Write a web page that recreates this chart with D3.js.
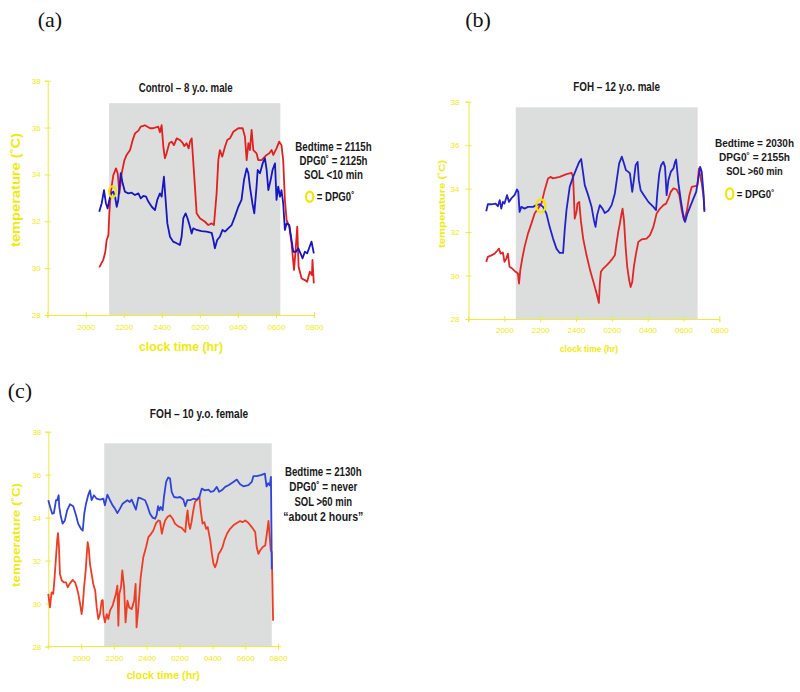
<!DOCTYPE html>
<html><head><meta charset="utf-8">
<script src="https://cdn.jsdelivr.net/npm/d3@7"></script>
<style>
body{margin:0;background:#fff;}
svg{display:block;}
.bold{font-family:"Liberation Sans Narrow","Arial Narrow","Liberation Sans",Arial,sans-serif;font-weight:bold;}
.tick text{font-family:"Liberation Sans",Arial,sans-serif;}
</style>
</head><body>
<script>
// ---------------- DATA ----------------
const yTicks = [28, 30, 32, 34, 36, 38];
const xTickHours = [20, 22, 24, 26, 28, 30, 32];
const xTickLabels = ["2000", "2200", "2400", "0200", "0400", "0600", "0800"];

// Panel (a) Control – 8 y.o. male  ([clock hour since 18:00 base, temperature °C])
const redA = [[20.71,30.03],[20.92,30.35],[21.03,30.7],[21.1,31.2],[21.19,31.4],[21.24,32.34],[21.31,33.19],[21.45,33.97],[21.59,34.26],[21.68,34.05],[21.77,33.19],[21.89,34.05],[22.03,34.6],[22.15,34.83],[22.33,35.04],[22.47,35.47],[22.59,35.75],[22.77,35.87],[22.89,36.04],[23.03,36.07],[23.11,36.1],[23.38,35.97],[23.55,35.97],[23.81,36.04],[23.9,35.8],[23.99,36.1],[24.08,35.18],[24.16,34.69],[24.25,34.9],[24.39,35.33],[24.51,35.4],[24.64,35.25],[24.78,35.54],[24.95,35.47],[25.09,35.35],[25.18,35.21],[25.3,35.33],[25.41,35.11],[25.48,35.4],[25.57,35.54],[25.6,35.18],[25.74,33.48],[25.83,32.34],[26.0,32.13],[26.27,31.98],[26.44,31.84],[26.62,31.91],[26.74,31.84],[26.88,33.19],[26.97,34.61],[27.05,35.04],[27.18,34.76],[27.32,35.18],[27.44,35.47],[27.58,35.54],[27.76,35.82],[28.02,35.97],[28.25,35.97],[28.37,35.61],[28.46,34.61],[28.55,35.33],[28.63,35.04],[28.72,35.9],[28.81,35.04],[28.98,34.9],[29.07,34.61],[29.25,34.61],[29.42,34.76],[29.51,34.83],[29.65,34.9],[29.77,35.04],[29.86,34.83],[30.03,35.11],[30.17,35.4],[30.29,35.25],[30.38,34.61],[30.47,32.91],[30.56,32.05],[30.7,31.77],[30.82,31.06],[30.95,29.92],[31.02,30.63],[31.12,31.77],[31.19,30.06],[31.35,29.56],[31.52,29.49],[31.64,29.42],[31.78,29.85],[31.89,29.71],[31.92,30.35],[31.99,29.35]];
const blueA = [[20.71,32.41],[20.84,32.77],[20.96,33.33],[21.06,32.77],[21.15,32.55],[21.24,32.91],[21.33,33.19],[21.45,33.26],[21.54,33.05],[21.63,32.62],[21.71,32.91],[21.84,34.05],[21.94,33.62],[22.06,33.26],[22.24,33.19],[22.41,33.22],[22.59,33.12],[22.77,33.19],[22.89,32.98],[23.03,33.08],[23.17,33.05],[23.29,32.84],[23.47,32.62],[23.64,32.48],[23.76,32.91],[23.9,33.19],[23.99,33.05],[24.11,33.9],[24.2,32.91],[24.29,31.91],[24.43,31.34],[24.6,31.13],[24.78,31.06],[24.95,30.99],[25.04,31.34],[25.13,32.13],[25.25,32.34],[25.35,32.13],[25.48,31.77],[25.57,31.48],[25.65,31.7],[25.83,31.63],[26.09,31.58],[26.35,31.56],[26.62,31.51],[26.71,31.2],[26.79,30.85],[26.91,31.2],[27.05,31.34],[27.19,31.63],[27.32,31.56],[27.49,31.7],[27.67,31.84],[27.84,32.2],[28.02,32.62],[28.19,32.91],[28.32,33.76],[28.46,34.26],[28.55,34.05],[28.63,33.48],[28.76,32.77],[28.86,32.34],[28.98,33.48],[29.04,34.19],[29.16,34.05],[29.3,34.47],[29.42,34.69],[29.51,34.19],[29.6,33.33],[29.72,33.76],[29.82,34.19],[29.95,34.47],[30.03,32.91],[30.12,33.48],[30.21,33.05],[30.29,33.33],[30.38,32.77],[30.47,31.63],[30.56,31.91],[30.7,31.84],[30.82,31.2],[30.91,30.7],[31.05,30.7],[31.17,30.85],[31.29,30.63],[31.4,30.42],[31.52,30.7],[31.64,30.63],[31.74,30.85],[31.87,31.13],[31.99,30.63]];
const sleepA = [21.23, 30.23];
const dpgA = [21.41, 33.26];

// Panel (b) FOH – 12 y.o. male
const blueB = [[18.99,32.96],[19.08,33.28],[19.27,33.28],[19.51,33.31],[19.64,33.19],[19.74,33.47],[19.83,33.08],[19.92,33.39],[20.01,33.31],[20.15,33.7],[20.26,33.39],[20.39,33.55],[20.57,33.7],[20.71,33.96],[20.78,33.85],[20.85,32.93],[20.95,33.16],[21.13,33.08],[21.32,33.16],[21.6,33.16],[21.79,33.24],[21.97,33.28],[22.16,33.16],[22.35,32.85],[22.53,32.24],[22.72,31.7],[22.91,31.24],[23.09,31.04],[23.28,31.04],[23.37,32.09],[23.47,33.01],[23.65,34.08],[23.84,34.54],[24.03,34.93],[24.18,35.23],[24.29,35.36],[24.4,34.7],[24.49,34.16],[24.68,33.7],[24.87,33.16],[25.0,32.55],[25.09,32.24],[25.18,32.78],[25.33,33.24],[25.48,33.08],[25.61,32.88],[25.8,32.98],[25.99,33.24],[26.17,33.78],[26.3,34.54],[26.41,35.16],[26.56,35.47],[26.68,35.16],[26.79,34.85],[26.92,34.77],[27.01,34.7],[27.14,33.85],[27.23,34.39],[27.33,35.08],[27.44,35.23],[27.51,34.39],[27.61,33.93],[27.79,33.7],[28.04,33.39],[28.32,33.16],[28.47,33.01],[28.54,33.78],[28.65,34.7],[28.75,35.08],[28.88,35.23],[28.97,35.0],[29.06,33.7],[29.16,34.39],[29.29,34.77],[29.44,34.93],[29.53,35.23],[29.59,35.34],[29.72,34.24],[29.85,33.47],[30.0,32.7],[30.09,32.47],[30.22,32.85],[30.37,33.16],[30.56,33.55],[30.71,33.85],[30.84,34.54],[30.93,35.0],[31.02,34.77],[31.12,33.78],[31.17,32.93]];
const redB = [[18.99,30.63],[19.08,30.86],[19.27,30.93],[19.46,31.01],[19.59,31.13],[19.7,31.24],[19.79,31.01],[19.92,31.06],[20.01,30.63],[20.11,30.78],[20.2,31.01],[20.29,30.4],[20.44,30.32],[20.63,30.17],[20.76,30.09],[20.82,29.63],[20.89,30.24],[21.0,30.78],[21.13,31.32],[21.32,31.93],[21.51,32.39],[21.69,32.85],[21.88,33.08],[22.07,33.31],[22.25,33.93],[22.44,34.47],[22.57,34.54],[22.72,34.47],[23.09,34.54],[23.47,34.67],[23.75,34.73],[23.84,34.54],[23.93,32.62],[24.03,32.93],[24.08,33.31],[24.18,33.39],[24.27,32.55],[24.4,31.7],[24.59,30.93],[24.81,30.17],[25.0,29.63],[25.15,29.17],[25.28,28.74],[25.33,29.63],[25.39,30.17],[25.52,30.32],[25.71,30.47],[25.89,30.63],[26.04,30.78],[26.17,30.93],[26.26,31.47],[26.36,32.01],[26.45,32.39],[26.54,32.85],[26.6,33.08],[26.68,32.55],[26.77,31.32],[26.86,30.4],[26.97,29.78],[27.05,29.47],[27.14,29.7],[27.23,30.4],[27.35,31.01],[27.48,31.55],[27.66,31.66],[27.94,31.7],[28.13,31.86],[28.32,32.24],[28.5,32.85],[28.69,33.08],[28.88,33.24],[29.03,33.31],[29.16,33.55],[29.29,33.85],[29.44,34.01],[29.62,33.96],[29.77,33.7],[29.9,33.01],[30.03,32.55],[30.18,32.93],[30.33,33.7],[30.46,34.08],[30.65,34.11],[30.78,34.16],[30.86,34.93],[30.93,34.62],[31.02,34.24],[31.12,33.62],[31.17,33.01]];
const sleepB = [20.64, 30.79];
const dpgB = [22.04, 33.21];

// Panel (c) FOH – 10 y.o. female
const blueC = [[18.0,34.81],[18.14,34.42],[18.24,34.18],[18.34,34.21],[18.47,34.81],[18.54,34.81],[18.63,35.04],[18.67,34.5],[18.75,34.11],[18.87,33.72],[19.01,33.87],[19.15,34.34],[19.32,34.62],[19.52,34.53],[19.69,34.11],[19.82,33.72],[19.99,33.48],[20.1,33.4],[20.19,34.18],[20.3,34.65],[20.43,35.04],[20.54,35.27],[20.64,34.81],[20.78,35.04],[20.95,34.88],[21.15,34.84],[21.36,34.88],[21.45,34.57],[21.6,35.07],[21.76,34.81],[21.92,34.57],[22.06,34.42],[22.21,34.21],[22.37,34.42],[22.53,34.65],[22.67,34.73],[22.82,34.81],[22.97,34.73],[23.08,34.84],[23.23,34.57],[23.34,34.37],[23.49,34.93],[23.69,34.88],[23.9,34.81],[24.03,34.57],[24.2,34.18],[24.36,34.0],[24.51,33.95],[24.6,34.11],[24.69,34.53],[24.77,34.34],[24.85,34.5],[24.97,34.34],[25.05,34.96],[25.18,35.66],[25.31,35.87],[25.42,35.82],[25.52,35.2],[25.66,34.96],[25.86,34.93],[26.03,34.96],[26.23,34.84],[26.35,34.53],[26.47,34.81],[26.64,34.81],[26.84,34.88],[27.05,34.84],[27.21,34.96],[27.35,35.35],[27.55,35.27],[27.76,35.3],[27.9,35.2],[28.07,35.23],[28.27,35.43],[28.41,35.2],[28.57,35.27],[28.78,35.43],[28.98,35.51],[29.28,35.66],[29.49,35.77],[29.59,35.66],[29.69,35.55],[29.89,35.46],[30.2,35.51],[30.4,35.66],[30.5,35.93],[30.7,35.93],[30.95,35.98],[31.2,36.05],[31.3,35.45],[31.4,35.6],[31.5,35.5],[31.57,35.9],[31.6,33.5],[31.62,31.6]];
const redC = [[18.0,30.45],[18.1,29.82],[18.2,30.52],[18.3,30.45],[18.37,31.07],[18.47,32.16],[18.54,32.94],[18.59,33.28],[18.65,32.63],[18.71,31.38],[18.82,31.07],[18.95,30.99],[19.08,30.99],[19.18,30.76],[19.32,30.94],[19.49,31.1],[19.63,30.99],[19.73,30.76],[19.83,30.45],[19.94,29.98],[20.03,29.51],[20.1,29.9],[20.18,30.76],[20.28,31.54],[20.34,32.24],[20.4,32.86],[20.47,32.55],[20.54,31.85],[20.64,31.38],[20.74,30.91],[20.86,30.6],[20.95,29.82],[21.05,29.28],[21.15,29.51],[21.25,30.13],[21.32,30.16],[21.36,29.51],[21.45,29.12],[21.56,29.51],[21.66,29.28],[21.76,29.67],[21.92,29.9],[22.03,30.21],[22.12,30.45],[22.21,30.83],[22.27,28.97],[22.33,30.45],[22.43,30.76],[22.51,31.54],[22.62,30.76],[22.71,29.12],[22.82,30.13],[22.93,29.82],[23.08,29.74],[23.23,30.13],[23.32,30.91],[23.38,28.89],[23.49,29.82],[23.63,31.22],[23.79,32.16],[23.96,32.63],[24.1,33.09],[24.24,33.22],[24.4,33.4],[24.57,33.75],[24.71,33.87],[24.81,33.84],[24.92,33.25],[25.01,33.56],[25.12,33.87],[25.26,34.03],[25.42,34.11],[25.58,33.95],[25.72,33.72],[25.92,33.59],[26.12,33.53],[26.27,33.4],[26.35,33.33],[26.43,34.03],[26.49,34.34],[26.55,33.79],[26.64,33.48],[26.73,33.79],[26.84,34.34],[26.94,34.73],[27.05,34.81],[27.14,34.88],[27.21,34.96],[27.29,34.34],[27.4,33.72],[27.51,33.79],[27.62,33.48],[27.72,33.56],[27.87,32.94],[27.97,32.31],[28.07,31.85],[28.17,31.69],[28.28,31.93],[28.38,32.31],[28.52,32.47],[28.62,32.63],[28.73,32.94],[28.89,33.25],[29.08,33.48],[29.28,33.64],[29.49,33.75],[29.69,33.84],[29.85,33.79],[30.0,33.87],[30.2,33.75],[30.4,33.56],[30.61,33.33],[30.7,32.63],[30.81,32.31],[30.91,32.47],[31.07,32.63],[31.22,32.7],[31.32,33.25],[31.42,33.85],[31.48,33.25],[31.56,32.47],[31.62,32.39],[31.66,30.91],[31.7,29.2]];
const sleepC = [21.41, 31.62];

// ---------------- DRAWING ----------------
const W = 800, H = 692;
const svg = d3.select("body").append("svg").attr("width", W).attr("height", H);
const YEL = "#f2ea0a", AXIS = "#f0ea3a", GRAY = "#dcdddd";

function label(g, txt, x, y, size, len, opts = {}) {
  const t = g.append("text").attr("class", "bold")
    .attr("x", x).attr("y", y)
    .attr("text-anchor", opts.anchor || "middle")
    .attr("font-size", size)
    .attr("fill", opts.fill || "#1a1a1a")
    .text(txt);
  if (len) t.attr("textLength", len).attr("lengthAdjust", "spacingAndGlyphs");
  if (opts.rotate) t.attr("transform", `rotate(-90,${x},${y})`);
  return t;
}

function panel(cfg) {
  const g = svg.append("g");
  const x = d3.scaleLinear().domain([18, 32]).range([cfg.x0, cfg.x1]);
  const y = d3.scaleLinear().domain([28, 38]).range([cfg.y0, cfg.y1]);

  // sleep (lights-off) period
  g.append("rect")
    .attr("x", x(cfg.sleep[0])).attr("width", x(cfg.sleep[1]) - x(cfg.sleep[0]))
    .attr("y", y(cfg.shadeTop)).attr("height", y(28) - y(cfg.shadeTop))
    .attr("fill", GRAY);

  // axes
  const xa = g.append("g").attr("transform", `translate(0,${y(28)})`)
    .call(d3.axisBottom(x).tickValues(xTickHours)
      .tickFormat((d, i) => xTickLabels[i]).tickSizeOuter(0).tickSize(3).tickPadding(cfg.xPad));
  const ya = g.append("g").attr("transform", `translate(${x(18)},0)`)
    .call(d3.axisLeft(y).tickValues(yTicks).tickSizeOuter(0).tickSize(3).tickPadding(cfg.yPad));
  if (cfg.axisExt) xa.select(".domain").attr("d", `M${x(18)},0H${cfg.axisExt}`);
  [xa, ya].forEach(a => {
    a.select(".domain").attr("stroke", AXIS).attr("stroke-width", 1);
    a.selectAll(".tick line").attr("stroke", AXIS);
    a.selectAll(".tick text").attr("fill", YEL).attr("font-size", 8);
  });
  xa.selectAll(".tick line").attr("y1", -3);
  ya.selectAll(".tick line").attr("x1", 3);
  xa.append("line").attr("x1", x(18)).attr("x2", x(18)).attr("y1", -3).attr("y2", 3).attr("stroke", AXIS);

  const line = d3.line().x(d => x(d[0])).y(d => y(d[1]));
  g.append("path").datum(cfg.red).attr("d", line).attr("fill", "none")
    .attr("stroke", cfg.redCol).attr("stroke-width", 1.8).attr("stroke-linejoin", "round");
  g.append("path").datum(cfg.blue).attr("d", line).attr("fill", "none")
    .attr("stroke", cfg.blueCol).attr("stroke-width", 1.8).attr("stroke-linejoin", "round");

  if (cfg.dpg) {
    g.append("ellipse").attr("cx", x(cfg.dpg[0])).attr("cy", y(cfg.dpg[1]))
      .attr("rx", cfg.dpgR[0]).attr("ry", cfg.dpgR[1])
      .attr("fill", "none").attr("stroke", "#f4e600").attr("stroke-width", 2.2);
  }
  return g;
}

// Panel (a)
const gA = panel({x0: 47.7, x1: 314, y0: 315, y1: 80.7, sleep: sleepA, shadeTop: 37.04,
  red: redA, blue: blueA, redCol: "#e3201e", blueCol: "#1616c4", dpg: dpgA, dpgR: [3.5, 5.5],
  xPad: 6, yPad: 4});
label(gA, "Control – 8 y.o. male", 185.7, 91.7, 12.5, 94);
label(gA, "Bedtime = 2115h", 333.5, 150.7, 12.5, 76.3);
label(gA, "DPG0˚ = 2125h", 333.5, 165, 12.5, 68);
label(gA, "SOL <10 min", 333.5, 179.3, 12.5, 59);
gA.append("ellipse").attr("cx", 309.7).attr("cy", 196.7).attr("rx", 3.6).attr("ry", 5)
  .attr("fill", "none").attr("stroke", "#f4e600").attr("stroke-width", 2.2);
label(gA, "= DPG0˚", 316.7, 200.7, 12.5, 37.7, {anchor: "start"});
label(gA, "temperature (˚C)", 20, 190, 12.5, 114, {rotate: true, fill: YEL});
label(gA, "clock time (hr)", 181, 351, 12.5, 84, {fill: YEL});

// Panel (b)
const gB = panel({x0: 468.5, x1: 719.3, y0: 319, y1: 101.7, sleep: sleepB, shadeTop: 37.74,
  red: redB, blue: blueB, redCol: "#e22626", blueCol: "#2222cc", dpg: dpgB, dpgR: [4.5, 6.5],
  xPad: 5, yPad: 6});
label(gB, "FOH –  12 y.o. male", 616.7, 90.7, 12.5, 86.7);
label(gB, "Bedtime = 2030h", 754.5, 146.7, 10.5, 79);
label(gB, "DPG0˚ = 2155h", 754.5, 161, 10.5, 71);
label(gB, "SOL >60 min", 754.5, 175.3, 10.5, 56.7);
gB.append("ellipse").attr("cx", 729.7).attr("cy", 193.8).attr("rx", 3.7).attr("ry", 5.5)
  .attr("fill", "none").attr("stroke", "#f4e600").attr("stroke-width", 2.2);
label(gB, "= DPG0˚", 736.7, 197.6, 11.5, 37.7, {anchor: "start"});
label(gB, "temperature (˚C)", 444.5, 204, 9.5, 88, {rotate: true, fill: YEL});
label(gB, "clock time (hr)", 589, 351.5, 9.5, 58.3, {fill: YEL});

// Panel (c)
const gC = panel({x0: 48.3, x1: 278, y0: 646.5, y1: 431.7, sleep: sleepC, shadeTop: 37.46,
  red: redC, blue: blueC, redCol: "#f03c22", blueCol: "#2e44dc", xPad: 6, yPad: 4, axisExt: 281});
label(gC, "FOH –  10 y.o. female", 199, 418.3, 12.5, 98.3);
label(gC, "Bedtime = 2130h", 323.3, 475.7, 12.5, 76.7);
label(gC, "DPG0˚ = never", 323.3, 490.7, 12.5, 68);
label(gC, "SOL >60 min", 323.3, 505.7, 12.5, 57.7);
label(gC, "“about 2 hours”", 323.3, 520.7, 12.5, 80);
label(gC, "temperature (˚C)", 19.5, 535, 11, 104, {rotate: true, fill: YEL});
label(gC, "clock time (hr)", 163.3, 679, 11.5, 73.3, {fill: YEL});

// Panel letters
[["(a)", 50, 27], ["(b)", 478, 27], ["(c)", 20, 398]].forEach(([t, px, py]) => {
  svg.append("text").attr("x", px).attr("y", py).attr("text-anchor", "middle")
    .attr("font-family", "'Liberation Serif','Times New Roman',serif")
    .attr("font-size", 22).attr("fill", "#111").text(t);
});
</script>
</body></html>
